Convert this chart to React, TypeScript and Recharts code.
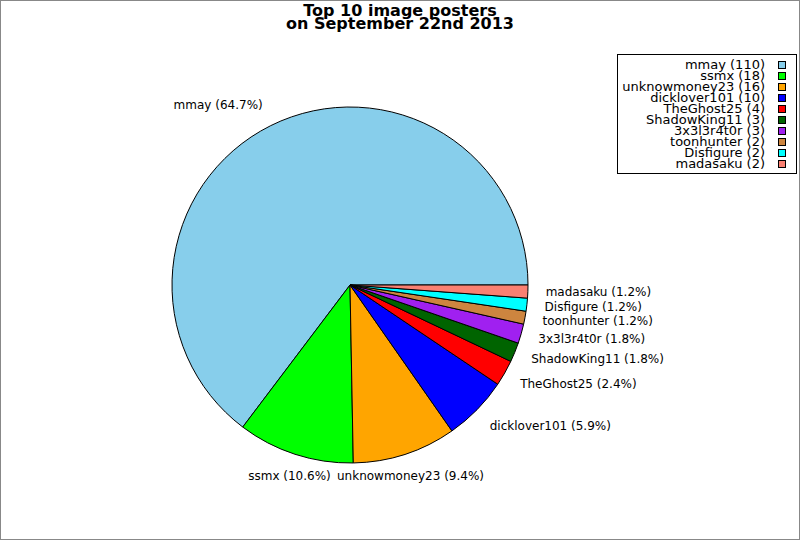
import React from "react";
import { Legend, Pie, PieChart, Cell } from "recharts";

const names = [
  "mmay",
  "ssmx",
  "unknowmoney23",
  "dicklover101",
  "TheGhost25",
  "ShadowKing11",
  "3x3l3r4t0r",
  "toonhunter",
  "Disfigure",
  "madasaku",
];
const counts = [110, 18, 16, 10, 4, 3, 3, 2, 2, 2];
const colors = [
  "#87ceeb",
  "#00ff00",
  "#ffa500",
  "#0000ff",
  "#ff0000",
  "#006400",
  "#a020f0",
  "#cd853f",
  "#00ffff",
  "#fa8072",
];

const data = names.map((name, i) => ({ name, value: counts[i] }));
const FONT = "'DejaVu Sans', sans-serif";
const RAD = Math.PI / 180;

function renderLabel(props: any) {
  const { cx, cy, midAngle, outerRadius, percent, name } = props;
  const r = outerRadius * 1.1;
  const c = Math.cos(-midAngle * RAD);
  const s = Math.sin(-midAngle * RAD);
  const x = cx + r * c;
  const y = cy + r * s;
  const up = -s; // positive when label is above centre
  const anchor = Math.abs(up) > 0.92 ? "middle" : c > 0 ? "start" : "end";
  const dy = Math.abs(up) > 0.4 ? -up * 5 : 0;
  return (
    <text
      x={x}
      y={y + dy}
      textAnchor={anchor}
      dominantBaseline="central"
      fontSize={12}
      fontFamily={FONT}
      fill="#000"
    >
      {`${name} (${(percent * 100).toFixed(1)}%)`}
    </text>
  );
}

// legend keeps the data order (recharts would sort it by name)
function LegendBox() {
  return (
    <div
      style={{
        boxSizing: "border-box",
        width: 180,
        height: 120,
        border: "1px solid #000",
        background: "#fff",
        paddingTop: 4,
        fontFamily: FONT,
      }}
    >
      {names.map((n, i) => (
        <div
          key={n}
          style={{
            display: "flex",
            justifyContent: "flex-end",
            alignItems: "center",
            height: 11,
            paddingRight: 10,
          }}
        >
          <span style={{ fontSize: 13, lineHeight: "11px", color: "#000", whiteSpace: "nowrap" }}>
            {`${n} (${counts[i]})`}
          </span>
          <span
            style={{
              boxSizing: "border-box",
              display: "inline-block",
              width: 8,
              height: 8,
              marginLeft: 13,
              border: "1px solid #000",
              background: colors[i],
            }}
          />
        </div>
      ))}
    </div>
  );
}

export default function App() {
  return (
    <div
      style={{
        position: "absolute",
        left: 0,
        top: 0,
        width: 800,
        height: 540,
        boxSizing: "border-box",
        border: "1px solid #888",
        background: "#fff",
        overflow: "hidden",
      }}
    >
      <div style={{ position: "absolute", left: -1, top: -1 }}>
        <PieChart width={800} height={540} margin={{ top: 0, right: 0, bottom: 0, left: 0 }}>
          <Pie
            data={data}
            dataKey="value"
            nameKey="name"
            cx={350}
            cy={285}
            outerRadius={178}
            startAngle={0}
            endAngle={360}
            stroke="#000"
            strokeWidth={1}
            label={renderLabel}
            labelLine={false}
            isAnimationActive={false}
          >
            {data.map((d, i) => (
              <Cell key={d.name} fill={colors[i]} />
            ))}
          </Pie>
          <Legend
            content={<LegendBox />}
            wrapperStyle={{ position: "absolute", left: 617, top: 54, width: 180, height: 120 }}
          />
        </PieChart>
        <svg
          width={800}
          height={540}
          style={{ position: "absolute", left: 0, top: 0, pointerEvents: "none" }}
        >
          <text x={400} y={15.5} textAnchor="middle" fontFamily={FONT} fontWeight="bold" fontSize={16}>
            Top 10 image posters
          </text>
          <text x={400} y={28.8} textAnchor="middle" fontFamily={FONT} fontWeight="bold" fontSize={16}>
            on September 22nd 2013
          </text>
        </svg>
      </div>
    </div>
  );
}
